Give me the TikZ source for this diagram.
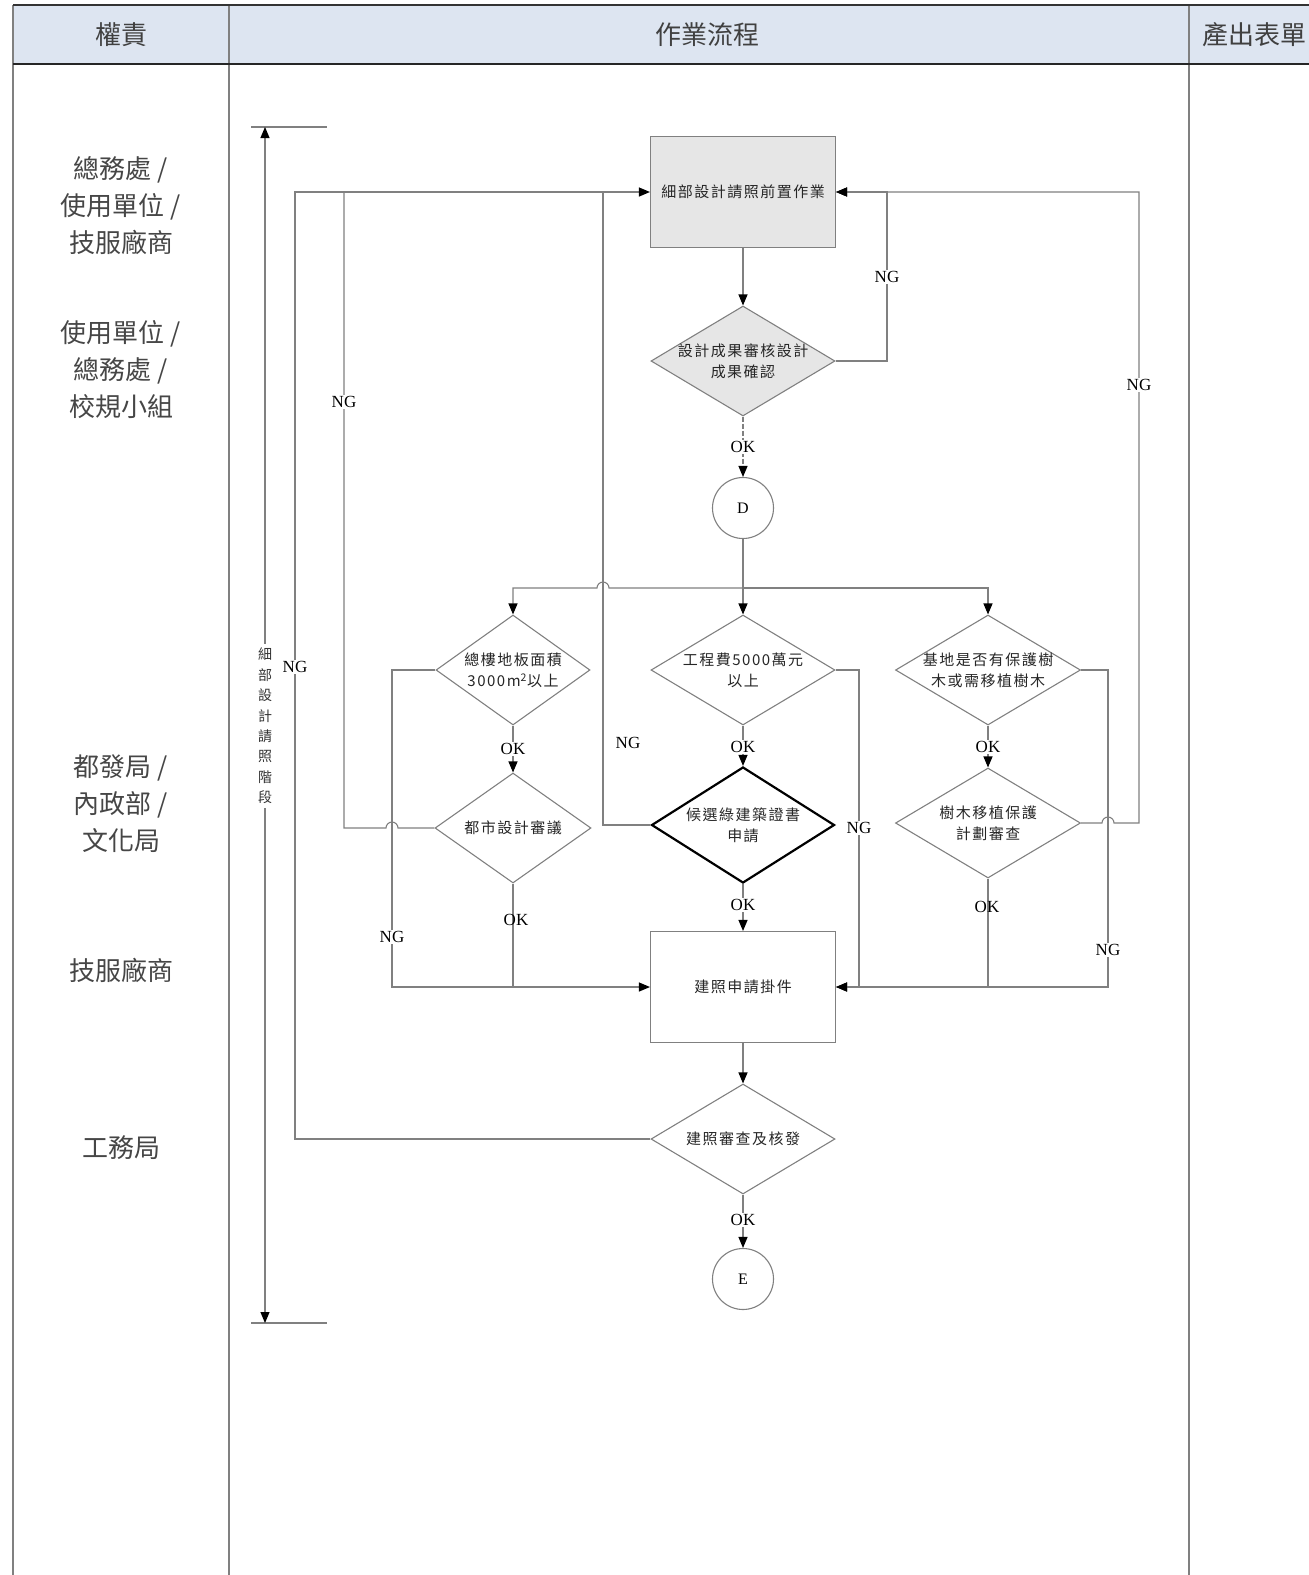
\documentclass[tikz,border=0pt]{standalone}
\usepackage{fontspec}
\setmainfont{Liberation Serif}
\newfontfamily\cjkfont{Noto Sans CJK TC}
\newfontfamily\flowfont[LetterSpace=10]{Noto Sans CJK TC}
\usetikzlibrary{shapes.geometric, arrows.meta, calc}
\definecolor{hdrblue}{RGB}{221,229,241}
\definecolor{lgray}{RGB}{128,128,128}
\definecolor{boxgray}{RGB}{230,230,230}
\definecolor{txtgray}{RGB}{70,70,70}

\begin{document}
\begin{tikzpicture}[x=1pt, y=-1pt,
    link/.style={draw=lgray, line width=1.1pt},
    flow/.style={link, -{Triangle[length=11pt, width=9pt, color=black]}},
    proc/.style={rectangle, draw=lgray, line width=1.1pt, minimum width=185pt, minimum height=111pt, inner sep=0pt, font=\flowfont\fontsize{15}{21}\selectfont, text=black!85},
    decision/.style={diamond, draw=lgray, line width=1.1pt, minimum width=#1, minimum height=110pt, inner sep=0pt},
    dtext/.style={font=\flowfont\fontsize{15}{21}\selectfont, align=center, text=black!85},
    conn/.style={circle, draw=lgray, line width=1.1pt, minimum size=61pt, inner sep=0pt, font=\fontsize{16}{16}\selectfont},
    tag/.style={fill=white, inner sep=1.5pt, font=\fontsize{17}{17}\selectfont},
    role/.style={font=\cjkfont\fontsize{26}{37}\selectfont, text=txtgray, align=center},
    hdr/.style={font=\cjkfont\fontsize{26}{30}\selectfont, text=black!75}]
  \useasboundingbox (0,0) rectangle (1309,1575);

  % table frame
  \fill[hdrblue] (13,5) rectangle (1309,64);
  \draw[gray, line width=1.6pt] (13,5) -- (13,1575) (229,5) -- (229,1575) (1189,5) -- (1189,1575);
  \draw[black!80, line width=1.6pt] (13,5) -- (1309,5);
  \draw[black!85, line width=2.2pt] (13,64) -- (1309,64);
  \node[hdr] (h1) at (121,35) {權責};
  \node[hdr] (h2) at (707,35) {作業流程};
  \node[hdr] (h3) at (1254,35) {產出表單};

  \node[role] (r1) at (121,206) {總務處 /\\使用單位 /\\技服廠商};
  \node[role] (r2) at (121,370) {使用單位 /\\總務處 /\\校規小組};
  \node[role] (r3) at (121,804) {都發局 /\\內政部 /\\文化局};
  \node[role] (r4) at (121,970) {技服廠商};
  \node[role] (r5) at (121,1148) {工務局};

  % phase bar
  \draw[lgray, line width=1.1pt] (251,127) -- (327,127) (251,1323) -- (327,1323);
  \draw[link, {Triangle[length=11pt, width=9pt, color=black]}-{Triangle[length=11pt, width=9pt, color=black]}] (265,127) -- (265,1323);
  \node[fill=white, inner sep=4pt, align=center, text=black!80, font=\cjkfont\fontsize{14}{20.4}\selectfont] (phase) at (265,726) {細\\部\\設\\計\\請\\照\\階\\段};

  % nodes
  \node[proc, fill=boxgray] (A) at (743,192) {細部設計請照前置作業};
  \node[decision=184pt, fill=boxgray, label={[dtext]center:設計成果審核設計\\成果確認}] (B) at (743,361) {};
  \node[conn] (D) at (743,508) {D};
  \node[decision=154pt, label={[dtext]center:總樓地板面積\\3000m\textsuperscript{2}以上}] (C1) at (513,670) {};
  \node[decision=184pt, label={[dtext]center:工程費5000萬元\\以上}] (C2) at (743,670) {};
  \node[decision=185pt, label={[dtext]center:基地是否有保護樹\\木或需移植樹木}] (C3) at (988,670) {};
  \node[decision=156pt, label={[dtext]center:都市設計審議}] (D1) at (513,828) {};
  \node[decision=183pt, draw=black, line width=2.2pt, minimum height=116pt, label={[dtext]center:候選綠建築證書\\申請}] (D2) at (743,825) {};
  \node[decision=185pt, label={[dtext]center:樹木移植保護\\計劃審查}] (D3) at (988,823) {};
  \node[proc] (E) at (743,987) {建照申請掛件};
  \node[decision=184pt, label={[dtext]center:建照審查及核發}] (F) at (743,1139) {};
  \node[conn] (End) at (743,1279) {E};

  \coordinate (split) at (743,588);
  \coordinate (leftF) at (295,192);
  \coordinate (leftD1) at (344,192);
  \coordinate (leftD2) at (603,192);
  \coordinate (rightB) at (887,192);
  \coordinate (rightD3) at (1139,192);
  \coordinate (joinC1) at (392,987);
  \coordinate (joinC2) at (859,987);
  \coordinate (joinC3) at (1108,987);

  % connectors
  \draw[flow] (A.south) -- (B.north);
  \draw[flow] (B.east) -| (rightB) -- (A.east);
  \draw[flow, dash pattern=on 5pt off 2pt] (B.south) -- (D.north);
  \draw[link] (D.south) -- (split);
  \draw[flow] (split) -- (C2.north);
  \draw[flow] (split) -| (C3.north);
  \draw[flow] (split) -- ($(split -| leftD2)+(6,0)$) arc[start angle=0, end angle=180, radius=6pt] -- (split -| C1.north) -- (C1.north);
  \draw[flow] (C1.south) -- (D1.north);
  \draw[flow] (C2.south) -- (D2.north);
  \draw[flow] (C3.south) -- (D3.north);
  \draw[flow] (C1.west) -| (joinC1) -- (E.west);
  \draw[link] (D1.west) -- ($(D1.west -| joinC1)+(6,0)$) arc[start angle=0, end angle=180, radius=6pt] -- (D1.west -| leftD1) -- (leftD1);
  \draw[link] (D1.south) -- (D1.south |- E.west);
  \draw[link] (D2.west) -| (leftD2);
  \draw[flow] (D2.south) -- (E.north);
  \draw[flow] (C2.east) -| (joinC2) -- (E.east);
  \draw[flow] (C3.east) -| (joinC3) -- (E.east);
  \draw[flow] (D3.east) -- ($(D3.east -| joinC3)+(-6,0)$) arc[start angle=180, end angle=0, radius=6pt] -- (D3.east -| rightD3) -- (rightD3) -- (A.east);
  \draw[link] (D3.south) -- (D3.south |- E.east);
  \draw[flow] (E.south) -- (F.north);
  \draw[flow] (F.south) -- (End.north);
  \draw[flow] (F.west) -| (leftF) -- (A.west);

  % labels
  \node[tag] (ngB) at (887,277) {NG};
  \node[tag] (okB) at (743,447) {OK};
  \node[tag] (ngD1) at (344,402) {NG};
  \node[tag] (ngD3) at (1139,385) {NG};
  \node[tag] (ngF) at (295,667) {NG};
  \node[tag] (okC1) at (513,749) {OK};
  \node[tag] (okC2) at (743,747) {OK};
  \node[tag] (okC3) at (988,747) {OK};
  \node[tag] (ngD2) at (628,743) {NG};
  \node[tag] (ngC2) at (859,828) {NG};
  \node[tag, fill=none] (okD1) at (516,920) {OK};
  \node[tag] (okD2) at (743,905) {OK};
  \node[tag, fill=none] (okD3) at (987,907) {OK};
  \node[tag] (ngC1) at (392,937) {NG};
  \node[tag] (ngC3) at (1108,950) {NG};
  \node[tag] (okF) at (743,1220) {OK};
\end{tikzpicture}
\end{document}
